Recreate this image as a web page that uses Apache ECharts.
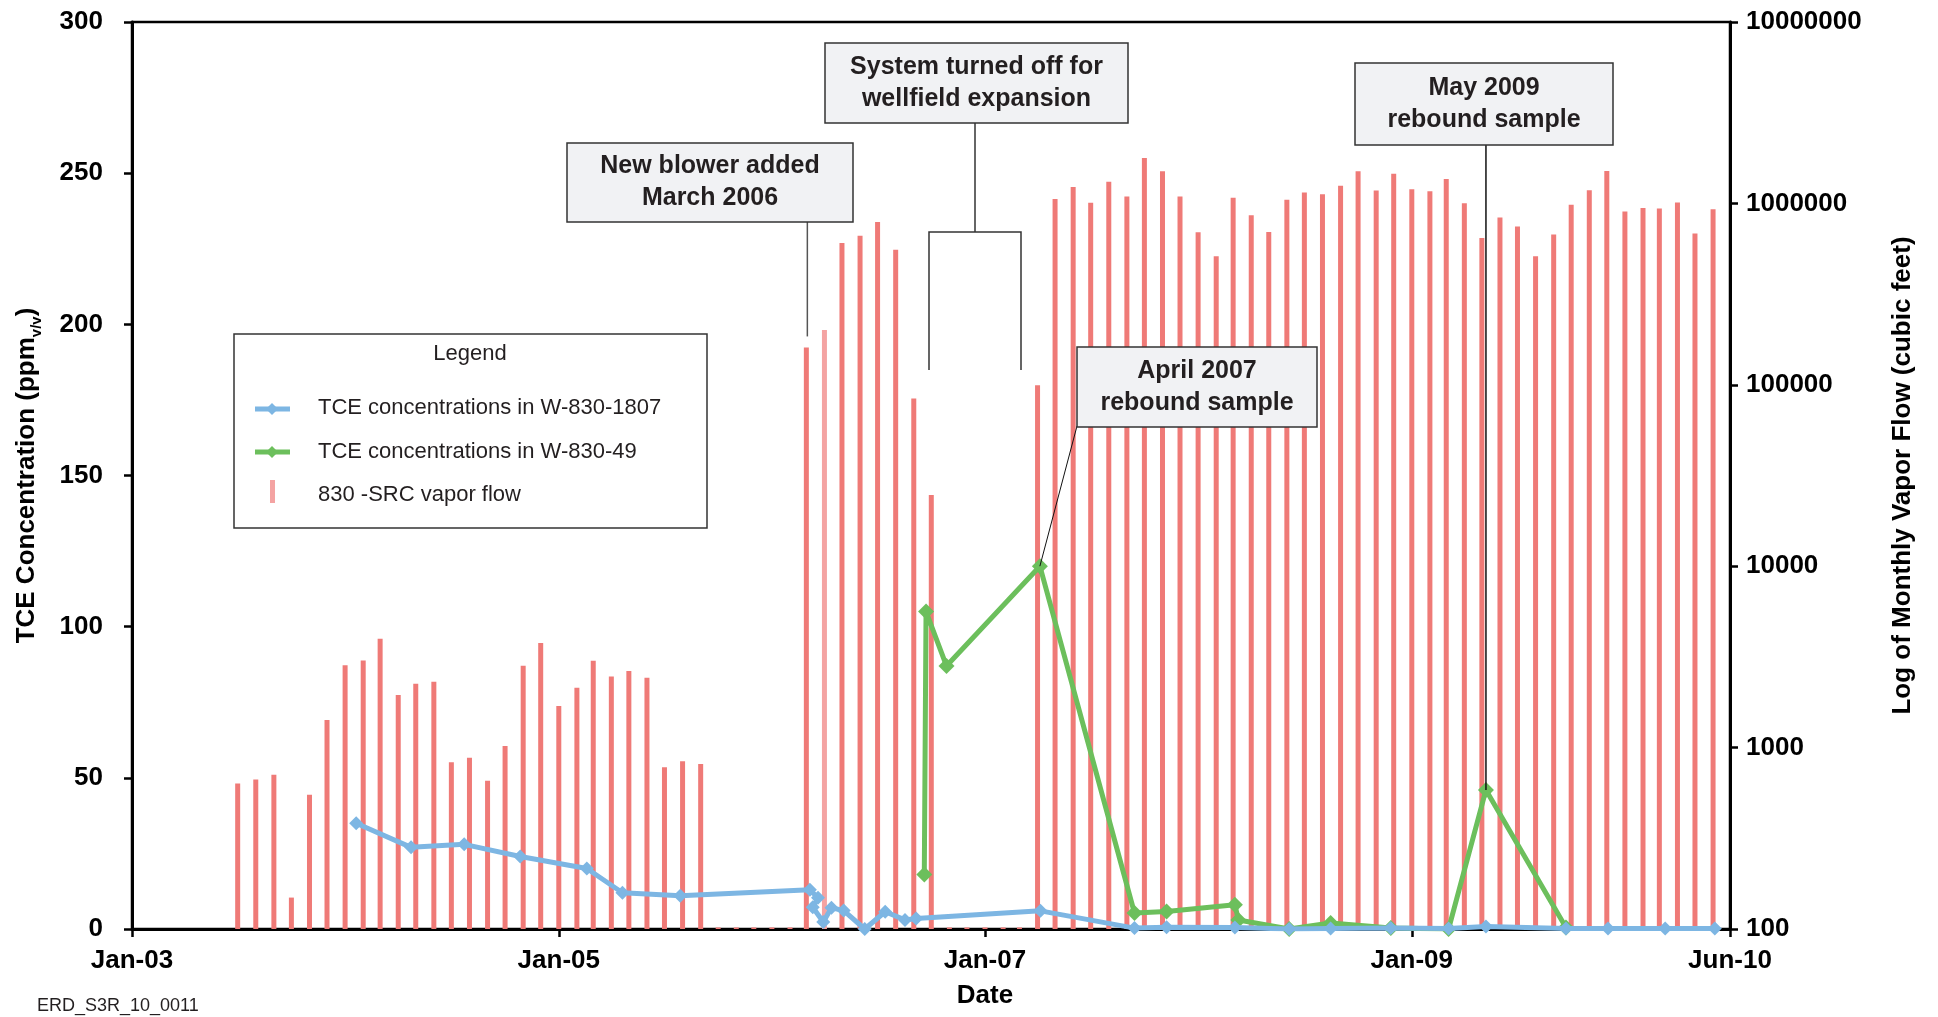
<!DOCTYPE html>
<html>
<head>
<meta charset="utf-8">
<title>830-SRC TCE concentrations and vapor flow</title>
<script src="https://cdn.jsdelivr.net/npm/echarts@6/dist/echarts.min.js"></script>
<style>
  html, body { margin: 0; padding: 0; background: #fff; }
  #chart { width: 1938px; height: 1017px; }
</style>
</head>
<body>
<div id="chart"></div>
<script>
// Monthly vapor flow at 830-SRC (cubic feet), one value per month
const flowMonths = [
  '2003-07','2003-08','2003-09','2003-10','2003-11','2003-12',
  '2004-01','2004-02','2004-03','2004-04','2004-05','2004-06','2004-07','2004-08','2004-09','2004-10','2004-11','2004-12',
  '2005-01','2005-02','2005-03','2005-04','2005-05','2005-06','2005-07','2005-08','2005-09','2005-10','2005-11','2005-12',
  '2006-01','2006-02','2006-03','2006-04','2006-05','2006-06','2006-07','2006-08','2006-09','2006-10','2006-11','2006-12',
  '2007-01','2007-02','2007-03','2007-04','2007-05','2007-06','2007-07','2007-08','2007-09','2007-10','2007-11','2007-12',
  '2008-01','2008-02','2008-03','2008-04','2008-05','2008-06','2008-07','2008-08','2008-09','2008-10','2008-11','2008-12',
  '2009-01','2009-02','2009-03','2009-04','2009-05','2009-06','2009-07','2009-08','2009-09','2009-10','2009-11','2009-12',
  '2010-01','2010-02','2010-03','2010-04','2010-05','2010-06'
];
const vaporFlow = [
  634, 666, 708, 149, 550, 1418,
  2840, 3020, 3981, 1950, 2248, 2307, 829, 878, 656, 1019, 2830, 3773,
  1698, 2138, 3008, 2464, 2640, 2427, 779, 841, 813, 102, 102, 102,
  102, 102, 160700, 200400, 605000, 663900, 790600, 556000, 84100, 24700, 102, 102,
  102, 102, 102, 99300, 1059000, 1233000, 1007000, 1315000, 1091000, 1780000, 1506000, 1091000,
  693000, 511000, 1076000, 861000, 696000, 1049000, 1148000, 1124000, 1250000, 1506000, 1178000, 1459000,
  1198000, 1167000, 1361000, 1003000, 645000, 835000, 745000, 511000, 673000, 982000, 1180000, 1511000,
  903000, 944000, 938000, 1013000, 683000, 927000
];
// month whose bar is drawn in the lighter tint
const newBlowerMonth = '2006-04';

// TCE concentrations (ppm v/v), well W-830-1807, in sampling order
const datesW1807 = [
  '2004-01-20','2004-04-23','2004-07-23','2004-10-27','2005-02-18','2005-04-20','2005-07-28',
  '2006-03-07','2006-03-21','2006-03-12','2006-03-30','2006-04-13','2006-05-04','2006-06-09',
  '2006-07-14','2006-08-17','2006-09-05','2007-04-06','2007-09-14','2007-11-08','2008-03-04',
  '2008-06-05','2008-08-15','2008-11-26','2009-03-05','2009-05-08','2009-09-22','2009-12-03',
  '2010-03-11','2010-06-04'
];
const tceW1807 = [
  35, 27, 28, 24, 20, 12, 11,
  13, 10.3, 7.2, 2.3, 7, 6.1, 0,
  5.7, 3, 3.5, 6, 0.3, 0.6, 0.5,
  0, 0.2, 0.3, 0.2, 0.8, 0.2, 0.2,
  0.2, 0.2
];

// TCE concentrations (ppm v/v), well W-830-49
const datesW49 = [
  '2006-09-19','2006-09-22','2006-10-27','2007-04-05','2007-09-14','2007-11-08','2008-03-04',
  '2008-03-10','2008-06-05','2008-08-15','2008-11-26','2009-03-05','2009-05-08','2009-09-22'
];
const tceW49 = [18, 105, 87, 120, 5.3, 5.8, 8, 3, 0, 2, 0.3, 0, 46, 0.5];

// date axis ticks and their labels
const dateTicks = ['2003-01-01', '2005-01-01', '2007-01-01', '2009-01-01', '2010-06-30'];
const dateTickLabels = ['Jan-03', 'Jan-05', 'Jan-07', 'Jan-09', 'Jun-10'];

const FONT = "'Liberation Sans', Arial, Helvetica, sans-serif";
const BAR_COLOR = '#EF7A77';
const BAR_LIGHT = '#F4A3A2';
const BLUE = '#7DB6E3';
const GREEN = '#6CBF5C';

// date string (YYYY-MM or YYYY-MM-DD) to a UTC timestamp
function t(s) {
  const y = +s.slice(0, 4), m = +s.slice(5, 7) - 1;
  const d = s.length > 7 ? +s.slice(8, 10) : 1;
  return Date.UTC(y, m, d);
}

const tickValues = dateTicks.map(t);

const barData = flowMonths.map((m, i) => {
  const item = { value: [t(m), vaporFlow[i]] };
  if (m === newBlowerMonth) item.itemStyle = { color: BAR_LIGHT };
  return item;
});
const lineW1807 = datesW1807.map((d, i) => [t(d), tceW1807[i]]);
const lineW49 = datesW49.map((d, i) => [t(d), tceW49[i]]);

const axisFont = { fontFamily: FONT, fontSize: 26, fontWeight: 'bold', color: '#000' };

const chart = echarts.init(document.getElementById('chart'), null, { renderer: 'canvas' });

const option = {
  backgroundColor: '#fff',
  animation: false,
  grid: {
    left: 132, right: 208, top: 22, bottom: 88,
    show: true, borderColor: '#000', borderWidth: 2.5, backgroundColor: 'transparent'
  },
  xAxis: {
    type: 'value',
    min: tickValues[0],
    max: tickValues[tickValues.length - 1],
    axisLine: { show: true, onZero: false, lineStyle: { color: '#000', width: 3 } },
    axisTick: { show: true, length: 8, inside: false, customValues: tickValues,
      lineStyle: { color: '#000', width: 2.5 } },
    axisLabel: Object.assign({
      customValues: tickValues,
      margin: 19,
      formatter: function (v) {
        let best = 0;
        for (let i = 1; i < tickValues.length; i++) {
          if (Math.abs(tickValues[i] - v) < Math.abs(tickValues[best] - v)) best = i;
        }
        return dateTickLabels[best];
      }
    }, axisFont),
    splitLine: { show: false },
    minorTick: { show: false },
    name: 'Date',
    nameLocation: 'middle',
    nameGap: 54,
    // the title sits under the Jan-07 tick rather than the axis centre
    nameTextStyle: { fontFamily: FONT, fontSize: 26, fontWeight: 'bold', color: '#000', padding: [0, 0, 0, 108] }
  },
  yAxis: [
    {
      type: 'value',
      position: 'left',
      min: 0, max: 300, interval: 50,
      axisLine: { show: true, lineStyle: { color: '#000', width: 3 } },
      axisTick: { show: true, length: 8, lineStyle: { color: '#000', width: 2.5 } },
      axisLabel: Object.assign({ margin: 29 }, axisFont),
      splitLine: { show: false },
      name: '{b|TCE Concentration (ppm}{s|v/v}{b|)}',
      nameLocation: 'middle',
      nameRotate: 90,
      nameGap: 88,
      nameTextStyle: {
        rich: {
          b: { fontFamily: FONT, fontSize: 26, fontWeight: 'bold', color: '#000', lineHeight: 34, verticalAlign: 'middle' },
          s: { fontFamily: FONT, fontSize: 15, fontWeight: 'bold', color: '#000', lineHeight: 34, verticalAlign: 'bottom', padding: [10, 0, 0, 0] }
        }
      }
    },
    {
      type: 'log',
      logBase: 10,
      position: 'right',
      min: 100, max: 10000000,
      axisLine: { show: true, lineStyle: { color: '#000', width: 3 } },
      axisTick: { show: true, length: 8, lineStyle: { color: '#000', width: 2.5 } },
      axisLabel: Object.assign({ margin: 16, formatter: v => String(Math.round(v)) }, axisFont),
      splitLine: { show: false },
      minorTick: { show: false },
      name: 'Log of Monthly Vapor Flow (cubic feet)',
      nameLocation: 'middle',
      nameRotate: 90,
      nameGap: 160,
      nameTextStyle: { fontFamily: FONT, fontSize: 26, fontWeight: 'bold', color: '#000' }
    }
  ],
  series: [
    {
      name: '830 -SRC vapor flow',
      type: 'bar',
      xAxisIndex: 0,
      yAxisIndex: 1,
      barWidth: 5,
      clip: true,
      itemStyle: { color: BAR_COLOR },
      z: 1,
      data: barData
    },
    {
      name: 'TCE concentrations in W-830-49',
      type: 'line',
      xAxisIndex: 0,
      yAxisIndex: 0,
      symbol: 'diamond',
      symbolSize: 16,
      lineStyle: { color: GREEN, width: 5 },
      itemStyle: { color: GREEN },
      z: 3,
      data: lineW49
    },
    {
      name: 'TCE concentrations in W-830-1807',
      type: 'line',
      xAxisIndex: 0,
      yAxisIndex: 0,
      symbol: 'diamond',
      symbolSize: 14,
      lineStyle: { color: BLUE, width: 5 },
      itemStyle: { color: BLUE },
      z: 4,
      data: lineW1807
    }
  ]
};

chart.setOption(option);

// callouts and legend panel, anchored to the data where they point
const px = (date, val, yi) => chart.convertToPixel({ xAxisIndex: 0, yAxisIndex: yi }, [date, val]);

const iBlower = flowMonths.indexOf('2006-03');
const blowerTop = px(t(flowMonths[iBlower]), vaporFlow[iBlower], 1);
const aprilPt = px(t(datesW49[3]), tceW49[3], 0);
const mayPt = px(t(datesW49[12]), tceW49[12], 0);

// a grey callout box with centred bold text
function callout(x, y, w, h, text) {
  return [
    {
      type: 'rect', z: 100,
      shape: { x: x, y: y, width: w, height: h },
      style: { fill: '#F1F2F4', stroke: '#333', lineWidth: 1.5 }
    },
    {
      type: 'text', z: 101,
      style: {
        text: text, x: x + w / 2, y: y + h / 2,
        font: 'bold 25px ' + FONT, fill: '#231f20',
        align: 'center', verticalAlign: 'middle', lineHeight: 32
      }
    }
  ];
}
const connector = (x1, y1, x2, y2, color, w) => ({
  type: 'line', z: 99, shape: { x1, y1, x2, y2 }, style: { stroke: color, lineWidth: w }
});

const legendText = (x, y, text) => ({
  type: 'text', z: 101,
  style: { text: text, x: x, y: y, font: '22px ' + FONT, fill: '#231f20', verticalAlign: 'middle', align: 'left' }
});

chart.setOption({
  graphic: [].concat(
    // New blower
    [connector(blowerTop[0] + 1, 222, blowerTop[0] + 1, blowerTop[1] - 11, '#555', 1.5)],
    callout(567, 143, 286, 79, 'New blower added\nMarch 2006'),
    // system shut-down bracket
    [
      connector(975, 122, 975, 232, '#333', 1.5),
      {
        type: 'polyline', z: 99,
        shape: { points: [[929, 370], [929, 232], [1021, 232], [1021, 370]] },
        style: { stroke: '#333', lineWidth: 1.5, fill: null }
      }
    ],
    callout(825, 43, 303, 80, 'System turned off for\nwellfield expansion'),
    // April 2007 rebound
    [connector(1077, 426, aprilPt[0], aprilPt[1], '#111', 1)],
    callout(1077, 347, 240, 80, 'April 2007\nrebound sample'),
    // May 2009 rebound
    [connector(mayPt[0], 145, mayPt[0], mayPt[1], '#111', 1.5)],
    callout(1355, 63, 258, 82, 'May 2009\nrebound sample'),
    // legend panel
    [
      {
        type: 'rect', z: 100,
        shape: { x: 234, y: 334, width: 473, height: 194 },
        style: { fill: '#fff', stroke: '#333', lineWidth: 1.5 }
      },
      connector(234, 373, 707, 373, '#333', 1.5),
      {
        type: 'text', z: 101,
        style: { text: 'Legend', x: 470, y: 354, font: '22px ' + FONT, fill: '#231f20', align: 'center', verticalAlign: 'middle' }
      },
      { type: 'line', z: 101, shape: { x1: 255, y1: 409, x2: 290, y2: 409 }, style: { stroke: BLUE, lineWidth: 5 } },
      { type: 'polygon', z: 102, shape: { points: [[272, 403], [278, 409], [272, 415], [266, 409]] }, style: { fill: BLUE } },
      legendText(318, 408, 'TCE concentrations in W-830-1807'),
      { type: 'line', z: 101, shape: { x1: 255, y1: 452, x2: 290, y2: 452 }, style: { stroke: GREEN, lineWidth: 5 } },
      { type: 'polygon', z: 102, shape: { points: [[272, 446], [278, 452], [272, 458], [266, 452]] }, style: { fill: GREEN } },
      legendText(318, 452, 'TCE concentrations in W-830-49'),
      { type: 'rect', z: 101, shape: { x: 270, y: 480, width: 5, height: 23 }, style: { fill: BAR_LIGHT } },
      legendText(318, 495, '830 -SRC vapor flow'),
      // figure id
      {
        type: 'text', z: 101,
        style: { text: 'ERD_S3R_10_0011', x: 37, y: 1006, font: '18px ' + FONT, fill: '#231f20', verticalAlign: 'middle' }
      }
    ]
  )
});
</script>
</body>
</html>
